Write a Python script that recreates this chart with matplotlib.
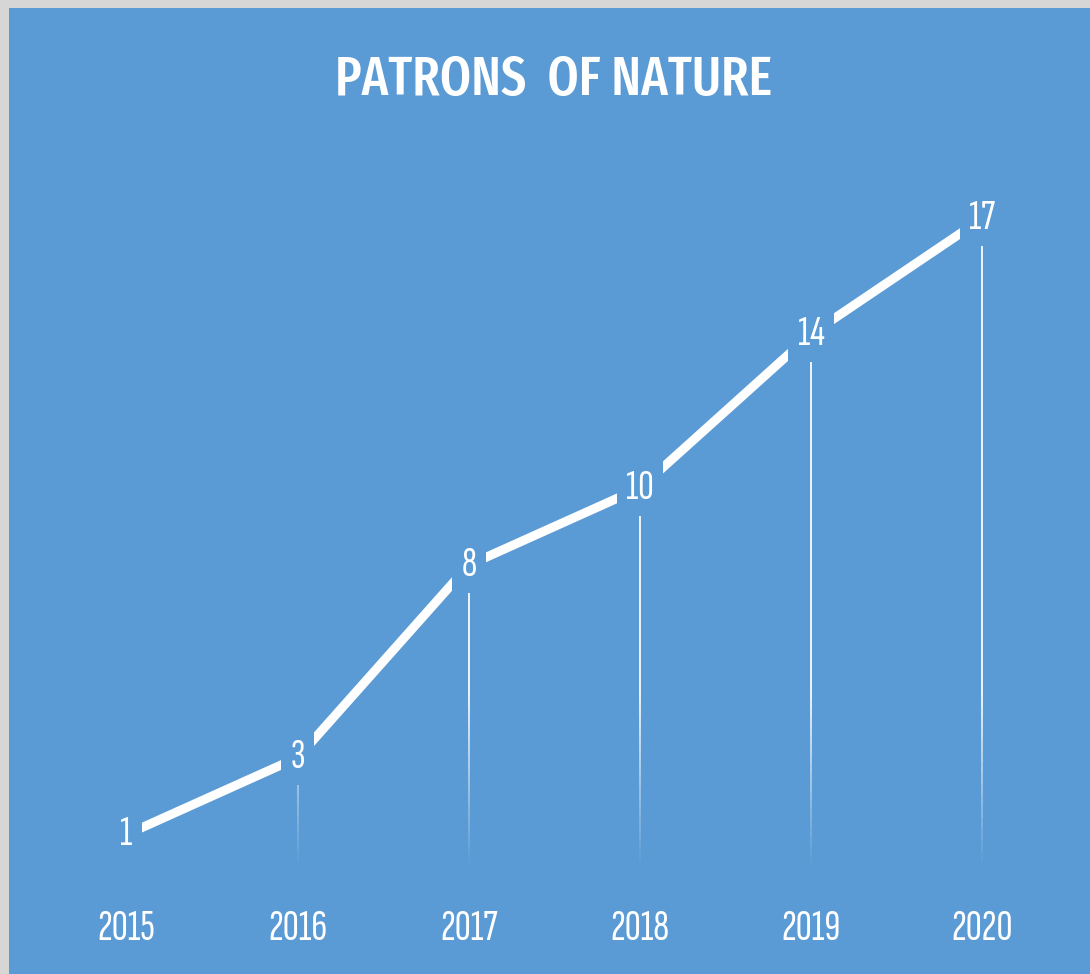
import numpy as np
import matplotlib
matplotlib.use('Agg')
from matplotlib import pyplot as plt
from matplotlib.patches import Rectangle
from matplotlib.collections import LineCollection

years = ['2015', '2016', '2017', '2018', '2019', '2020']
patrons = [1, 3, 8, 10, 14, 17]
title = 'PATRONS  OF NATURE'

BLUE = '#5B9BD5'
FONT = ['Fira Sans Extra Condensed', 'DejaVu Sans']
NUM_FONT = ['Sofia Sans Extra Condensed', 'DejaVu Sans']

plt.rcParams['font.family'] = FONT

fig = plt.figure(figsize=(10.9, 9.74), dpi=100)
fig.patch.set_facecolor('#D6D6D6')
# blue chart area (light grey edge shows at top and left)
fig.patches.append(Rectangle((9 / 1090, 0), 1 - 9 / 1090, 1 - 8 / 974,
                             transform=fig.transFigure, facecolor=BLUE,
                             edgecolor='none', zorder=-5))

ax = fig.add_axes([41 / 1090, 101 / 974, 1027 / 1090, 693 / 974])
ax.set_facecolor('none')
x = np.arange(len(years))

# drop lines, fading out towards the baseline
for xi, v in zip(x, patrons):
    ys = np.linspace(0, v, 60)
    segs = [[(xi, ys[i]), (xi, ys[i + 1])] for i in range(len(ys) - 1)]
    mids = (ys[:-1] + ys[1:]) / 2
    alphas = np.clip((mids - 0.2) / 4.5, 0, 1) * 0.9
    cols = [(1, 1, 1, a) for a in alphas]
    ax.add_collection(LineCollection(segs, colors=cols, linewidths=1.4, zorder=1))

ax.plot(x, patrons, color='white', linewidth=6.5, solid_capstyle='butt', zorder=2)

for xi, v in zip(x, patrons):
    ax.text(xi, v, str(v), color='white', fontsize=31, fontweight='medium',
            ha='center', va='center', family=NUM_FONT, zorder=3,
            bbox=dict(boxstyle='square,pad=0.22', facecolor=BLUE, edgecolor='none'))

ax.set_xlim(-0.5, len(years) - 0.5)
ax.set_ylim(0, 18)
ax.set_xticks(x)
ax.set_xticklabels(years, color='white', fontsize=32, fontweight='medium',
                   family=NUM_FONT)
ax.tick_params(axis='x', length=0, pad=26)
ax.set_yticks([])
for s in ax.spines.values():
    s.set_visible(False)

fig.text(554 / 1090, 1 - 81 / 974, title, color='white', fontsize=39,
         fontweight='medium', ha='center', va='center')

fig.savefig('out.png', dpi=100, facecolor=fig.get_facecolor())
